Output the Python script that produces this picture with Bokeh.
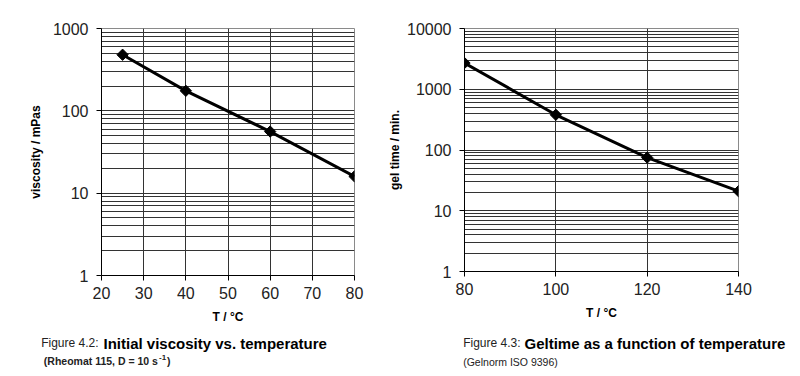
import math
from bokeh.plotting import figure
from bokeh.layouts import row, column
from bokeh.models import FixedTicker, Label, Range1d
from bokeh.embed import file_html
from bokeh.resources import INLINE

# ---- data ----
visc_temp = [25, 40, 60, 80]
visc_vals = [480, 175, 56, 16]
gel_temp = [80, 100, 120, 140]
gel_vals = [2700, 380, 75, 21]

visc_xticks = [20, 30, 40, 50, 60, 70, 80]
visc_yticks = [1, 10, 100, 1000]
gel_xticks = [80, 100, 120, 140]
gel_yticks = [1, 10, 100, 1000, 10000]

FONT = "Liberation Sans"
TICK_COLOR = "#222222"
GRID_COLOR = "#333333"
TOP_H = 325
CAP_H = 376 - TOP_H


def minor_ticks(majors):
    out = []
    for m in majors[:-1]:
        out += [m * k for k in range(2, 10)]
    return out


def make_fig(width, left, right, top, fw, fh, xr, yr, xticks, yticks, ylabel):
    p = figure(width=width, height=TOP_H, frame_width=fw, frame_height=fh,
               x_range=Range1d(*xr), y_range=Range1d(*yr), y_axis_type="log",
               output_backend="svg", toolbar_location=None,
               min_border_left=left, min_border_right=right,
               min_border_top=top, min_border_bottom=TOP_H - top - fh)
    p.background_fill_color = "white"
    p.border_fill_color = "white"
    p.outline_line_color = "#8a8a8a"
    p.outline_line_width = 1

    p.xaxis.ticker = FixedTicker(ticks=xticks)
    p.yaxis.ticker = FixedTicker(ticks=yticks, minor_ticks=minor_ticks(yticks))
    p.yaxis.major_label_overrides = {t: str(t) for t in yticks}

    for ax in (p.xaxis[0], p.yaxis[0]):
        ax.axis_line_color = "black"
        ax.axis_line_width = 1
        ax.major_tick_line_color = "black"
        ax.major_tick_in = 0
        ax.major_tick_out = 5
        ax.minor_tick_in = 0
        ax.minor_tick_out = 0
        ax.major_label_text_font = FONT
        ax.major_label_text_font_size = "16px"
        ax.major_label_text_color = TICK_COLOR
        ax.axis_label_text_font = FONT
        ax.axis_label_text_font_size = "12px"
        ax.axis_label_text_font_style = "bold"
        ax.axis_label_text_color = "black"

    p.yaxis.major_label_standoff = 8
    p.xaxis.major_label_standoff = 6
    p.xaxis.axis_label = "T / °C"
    p.xaxis.axis_label_standoff = 8
    p.yaxis.axis_label = ylabel
    p.yaxis.major_label_orientation = "horizontal"

    p.xgrid.grid_line_color = GRID_COLOR
    p.xgrid.grid_line_width = 1
    p.ygrid.grid_line_color = GRID_COLOR
    p.ygrid.grid_line_width = 1
    p.ygrid.minor_grid_line_color = GRID_COLOR
    p.ygrid.minor_grid_line_width = 1
    return p


def caption_fig(width):
    c = figure(width=width, height=CAP_H, frame_width=width, frame_height=CAP_H,
               x_range=Range1d(0, width), y_range=Range1d(CAP_H, 0),
               x_axis_location=None, y_axis_location=None,
               output_backend="svg", toolbar_location=None,
               min_border_left=0, min_border_right=0,
               min_border_top=0, min_border_bottom=0)
    c.grid.visible = False
    c.outline_line_color = None
    c.background_fill_color = "white"
    c.border_fill_color = "white"
    return c


def cap(c, x, y, text, size, bold=False, color="black"):
    c.add_layout(Label(x=x, y=y - TOP_H, text=text, text_font=FONT,
                       text_font_size=size,
                       text_font_style="bold" if bold else "normal",
                       text_color=color, text_baseline="alphabetic"))


# ---- left: viscosity ----
p1 = make_fig(385, 101, 31, 23, 253, 247, (20, 80), (1, 1000),
              visc_xticks, visc_yticks, "viscosity / mPas")
p1.yaxis.axis_label_standoff = 7
p1.line(visc_temp, visc_vals, line_color="black", line_width=3)
p1.scatter(visc_temp, visc_vals, marker="square", angle=math.pi / 4,
           size=8, fill_color="black", line_color="black")

c1 = caption_fig(385)
cap(c1, 40.7, 342.5, "Figure 4.2:", "12px", color="#222222")
cap(c1, 103, 342.5, "Initial viscosity vs. temperature", "15px", bold=True)
cap(c1, 43.3, 360.5, "(Rheomat 115, D = 10 s", "10.5px", bold=True, color="#222222")
cap(c1, 158.5, 356.5, "-1", "8px", bold=True, color="#222222")
cap(c1, 166.5, 360.5, ")", "10.5px", bold=True, color="#222222")

# ---- right: gel time ----
p2 = make_fig(415, 77, 64, 28, 274, 243, (80, 140), (1, 10000),
              gel_xticks, gel_yticks, "gel time / min.")
p2.yaxis.axis_label_standoff = 2
p2.line(gel_temp, gel_vals, line_color="black", line_width=3)
p2.scatter(gel_temp, gel_vals, marker="square", angle=math.pi / 4,
           size=8, fill_color="black", line_color="black")

c2 = caption_fig(415)
cap(c2, 462.7 - 385, 342.5, "Figure 4.3:", "12px", color="#222222")
cap(c2, 524 - 385, 342.5, "Geltime as a function of temperature", "15px", bold=True)
cap(c2, 462.7 - 385, 361, "(Gelnorm ISO 9396)", "10.5px", color="#222222")

layout = column(row(p1, p2), row(c1, c2))
open("out.html", "w").write(file_html(layout, INLINE))
